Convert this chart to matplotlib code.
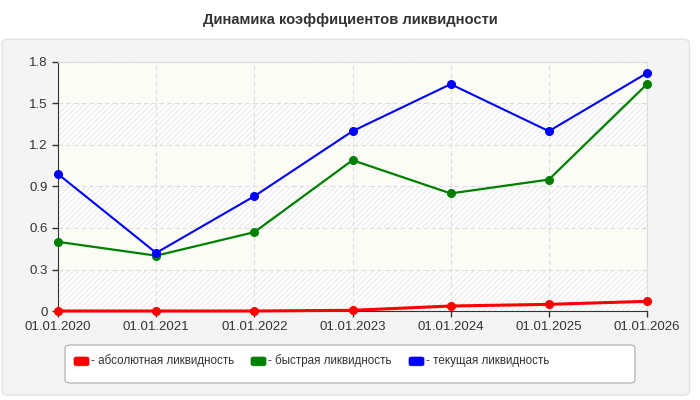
import matplotlib
matplotlib.use("Agg")
import matplotlib.pyplot as plt
from matplotlib.patches import FancyBboxPatch

plt.rcParams['font.family'] = ['Liberation Sans', 'DejaVu Sans']

dates = ['01.01.2020', '01.01.2021', '01.01.2022', '01.01.2023',
         '01.01.2024', '01.01.2025', '01.01.2026']
absolute = [0.0, 0.0, 0.0, 0.005, 0.036, 0.048, 0.07]
quick = [0.50, 0.40, 0.57, 1.09, 0.85, 0.95, 1.64]
current = [0.99, 0.42, 0.83, 1.30, 1.64, 1.30, 1.72]
yticks = [0, 0.3, 0.6, 0.9, 1.2, 1.5, 1.8]
names = ['- абсолютная ликвидность', '- быстрая ликвидность', '- текущая ликвидность']
colors = ['#ff0000', '#008000', '#0000ff']

fig = plt.figure(figsize=(7, 4), dpi=100)
fig.patch.set_facecolor('white')

# outer gray panel
panel = FancyBboxPatch((0.003, 0.012), 0.982, 0.89, boxstyle='round,pad=0,rounding_size=0.01',
                       transform=fig.transFigure, facecolor='#f4f4f4', edgecolor='#e2e2e2',
                       lw=1, zorder=-10)
fig.patches.append(panel)

fig.text(0.5, 0.95, 'Динамика коэффициентов ликвидности', ha='center', va='center',
         fontsize=10.6, fontweight='bold', color='#333333')

ax = fig.add_axes([58/700, 1-311/400, (647-58)/700, (311-62)/400])
ax.set_facecolor('#fcfcf7')
x = list(range(len(dates)))

# striped bands
for i in range(0, len(yticks) - 1, 2):
    ax.axhspan(yticks[i], yticks[i+1], facecolor='#ffffff', edgecolor='#eeeeee',
               hatch='//////', lw=0, zorder=0)

ax.grid(True, color='#dddddd', linestyle=(0, (4, 3)), lw=0.8, zorder=1)
ax.set_axisbelow(True)

series = [absolute, quick, current]
lws = [2.2, 1.6, 1.5]
for vals, c, lw in zip(series, colors, lws):
    ax.plot(x, vals, color=c, lw=lw, marker='o', ms=5.5, zorder=3, clip_on=False)

ax.set_xlim(0, len(dates) - 1)
ax.set_ylim(0, 1.8)
ax.set_xticks(x)
ax.set_xticklabels(dates)
ax.set_yticks(yticks)
ax.set_yticklabels(['0', '0.3', '0.6', '0.9', '1.2', '1.5', '1.8'])
ax.tick_params(labelsize=9.5, colors='#333333', length=4, width=1)
for s in ['top', 'right']:
    ax.spines[s].set_color('#dddddd')
for s in ['left', 'bottom']:
    ax.spines[s].set_color('#333333')

# legend box
lb = FancyBboxPatch((65/700, 1-383/400), (635-65)/700, (383-345)/400,
                    boxstyle='round,pad=0,rounding_size=0.008', transform=fig.transFigure,
                    facecolor='white', edgecolor='#aaaaaa', lw=0.8, zorder=-5)
fig.patches.append(lb)
lx = [74, 251, 409]
ly = 1 - 361/400
for px, name, c in zip(lx, names, colors):
    sw = FancyBboxPatch((px/700, ly - 0.012), 15/700, 0.022,
                        boxstyle='round,pad=0,rounding_size=0.004', transform=fig.transFigure,
                        facecolor=c, edgecolor=c, lw=0.5, zorder=-4)
    fig.patches.append(sw)
    fig.text((px + 17)/700, ly, name, fontsize=8.4, color='#333333', va='center', ha='left')

fig.savefig('out.png', dpi=100)
